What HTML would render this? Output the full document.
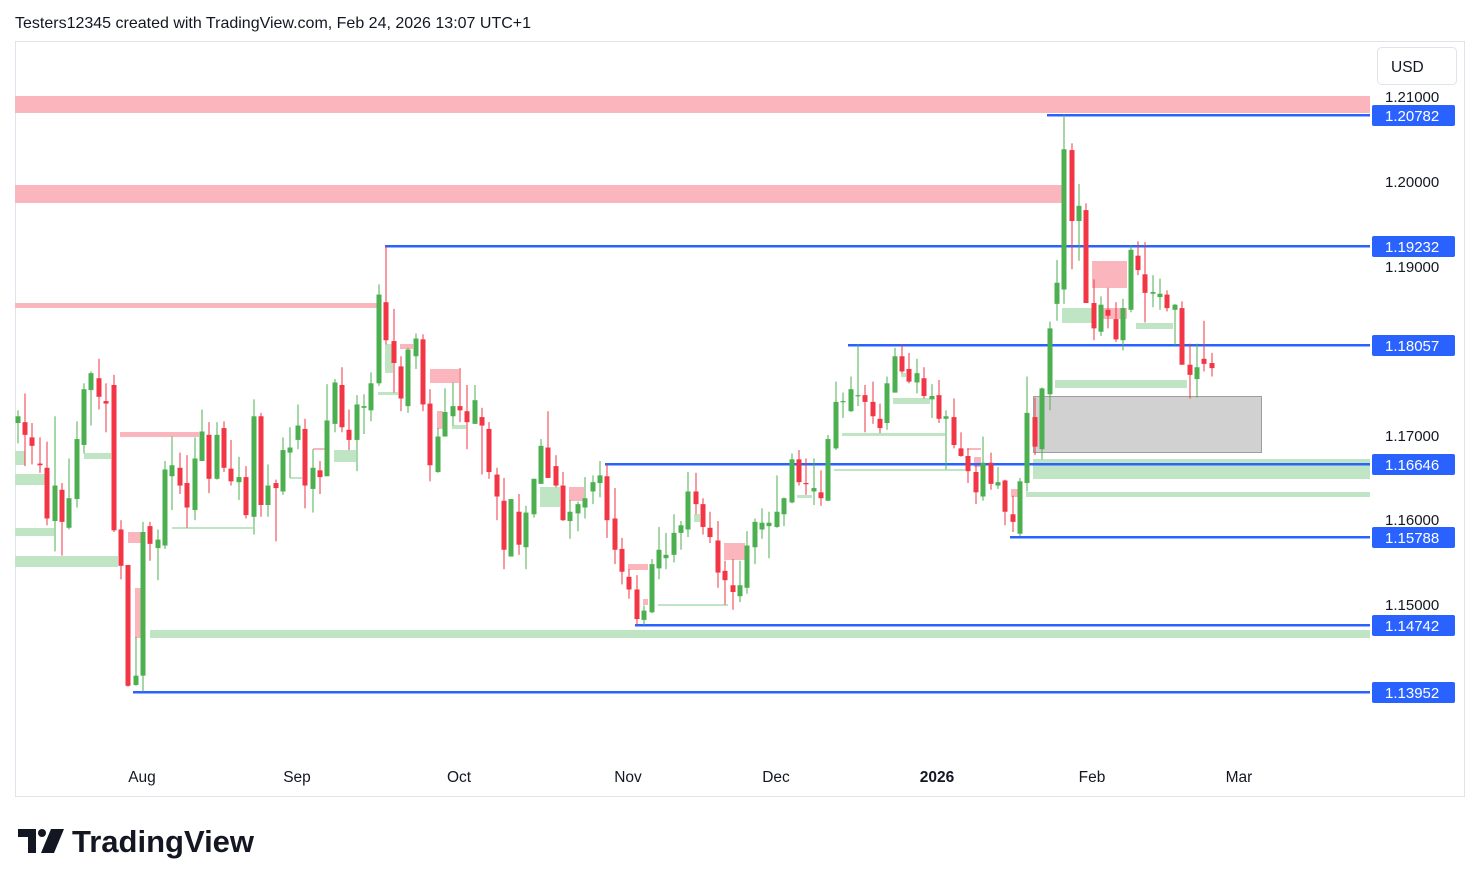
<!DOCTYPE html>
<html><head><meta charset="utf-8"><style>
html,body{margin:0;padding:0;background:#fff;}
body{width:1479px;height:886px;overflow:hidden;font-family:"Liberation Sans",sans-serif;}
svg text{font-family:"Liberation Sans",sans-serif;}
</style></head><body>
<svg id="chart" width="1479" height="886" viewBox="0 0 1479 886" xmlns="http://www.w3.org/2000/svg">
<rect x="0" y="0" width="1479" height="886" fill="#fff"/>
<text x="15" y="28" font-size="16" fill="#131722">Testers12345 created with TradingView.com, Feb 24, 2026 13:07 UTC+1</text>
<rect x="15.5" y="41.5" width="1449" height="755" fill="none" stroke="#e0e3eb"/>
<g id="zones">
<rect x="15" y="96" width="1355" height="17" fill="#fbb5bd"/>
<rect x="15" y="185" width="1048" height="18" fill="#fbb5bd"/>
<rect x="15" y="303" width="363" height="5" fill="#fbb5bd"/>
<rect x="15" y="451" width="10" height="14" fill="#c0e5c5"/>
<rect x="15" y="474" width="30" height="11" fill="#c0e5c5"/>
<rect x="15" y="528" width="39" height="8" fill="#c0e5c5"/>
<rect x="15" y="556" width="103" height="11" fill="#c0e5c5"/>
<rect x="84" y="453" width="27" height="6" fill="#c0e5c5"/>
<rect x="150" y="630" width="1220" height="8" fill="#c0e5c5"/>
<rect x="172" y="527" width="81" height="2" fill="#c0e5c5"/>
<rect x="290" y="477" width="12" height="2" fill="#c0e5c5"/>
<rect x="334" y="450" width="22" height="12" fill="#c0e5c5"/>
<rect x="378" y="392" width="20" height="3" fill="#c0e5c5"/>
<rect x="385" y="344" width="8" height="29" fill="#c0e5c5"/>
<rect x="452" y="425" width="14" height="4" fill="#c0e5c5"/>
<rect x="540" y="487" width="20" height="20" fill="#c0e5c5"/>
<rect x="658" y="604" width="70" height="2" fill="#c0e5c5"/>
<rect x="694" y="514" width="6" height="8" fill="#c0e5c5"/>
<rect x="797" y="495" width="15" height="3" fill="#c0e5c5"/>
<rect x="842" y="433" width="103" height="3" fill="#c0e5c5"/>
<rect x="834" y="469" width="131" height="2" fill="#c0e5c5"/>
<rect x="893" y="398" width="37" height="6" fill="#c0e5c5"/>
<rect x="901" y="373" width="5" height="4" fill="#c0e5c5"/>
<rect x="1026" y="492" width="344" height="5" fill="#c0e5c5"/>
<rect x="1033" y="459" width="337" height="20" fill="#c0e5c5"/>
<rect x="1062" y="308" width="30" height="15" fill="#c0e5c5"/>
<rect x="1055" y="380" width="132" height="8" fill="#c0e5c5"/>
<rect x="1136" y="323" width="37" height="6" fill="#c0e5c5"/>
<rect x="120" y="432" width="79" height="5" fill="#fbb5bd"/>
<rect x="128" y="532" width="13" height="11" fill="#fbb5bd"/>
<rect x="135" y="588" width="6" height="50" fill="#fbb5bd"/>
<rect x="313" y="448" width="12" height="2" fill="#fbb5bd"/>
<rect x="400" y="344" width="13" height="5" fill="#fbb5bd"/>
<rect x="430" y="369" width="29" height="14" fill="#fbb5bd"/>
<rect x="437" y="411" width="6" height="18" fill="#fbb5bd"/>
<rect x="569" y="487" width="15" height="14" fill="#fbb5bd"/>
<rect x="628" y="564" width="20" height="6" fill="#fbb5bd"/>
<rect x="643" y="599" width="5" height="6" fill="#fbb5bd"/>
<rect x="724" y="543" width="21" height="17" fill="#fbb5bd"/>
<rect x="967" y="448" width="14" height="2" fill="#fbb5bd"/>
<rect x="974" y="457" width="7" height="10" fill="#fbb5bd"/>
<rect x="1011" y="489" width="7" height="8" fill="#fbb5bd"/>
<rect x="1092" y="261" width="35" height="27" fill="#fbb5bd"/>
<rect x="1099" y="308" width="28" height="11" fill="#fbb5bd"/>
<rect x="1033.5" y="396.5" width="228" height="56" fill="#d1d1d1" stroke="#9e9e9e" stroke-width="1"/>
</g>
<g id="levels">
<rect x="1047" y="114" width="323" height="2.5" fill="#2962ff"/>
<rect x="385" y="245" width="985" height="2.5" fill="#2962ff"/>
<rect x="848" y="344" width="522" height="2.5" fill="#2962ff"/>
<rect x="605" y="463" width="765" height="2.5" fill="#2962ff"/>
<rect x="1010" y="536" width="360" height="2.5" fill="#2962ff"/>
<rect x="635" y="624" width="735" height="2.5" fill="#2962ff"/>
<rect x="133" y="691" width="1237" height="2.5" fill="#2962ff"/>
</g>
<g id="candles"></g>
<g id="price-axis">
<rect x="1377.5" y="47.5" width="79" height="37" rx="4" fill="#fff" stroke="#e0e3eb"/>
<text x="1391" y="72" font-size="15.5" fill="#131722">USD</text>
<text x="1385" y="102" font-size="15" fill="#131722">1.21000</text>
<text x="1385" y="187" font-size="15" fill="#131722">1.20000</text>
<text x="1385" y="272" font-size="15" fill="#131722">1.19000</text>
<text x="1385" y="441" font-size="15" fill="#131722">1.17000</text>
<text x="1385" y="525" font-size="15" fill="#131722">1.16000</text>
<text x="1385" y="610" font-size="15" fill="#131722">1.15000</text>
<g><rect x="1372" y="105" width="83" height="21" rx="2" fill="#2962ff"/><text x="1385" y="121" font-size="15" fill="#fff">1.20782</text></g>
<g><rect x="1372" y="236" width="83" height="21" rx="2" fill="#2962ff"/><text x="1385" y="252" font-size="15" fill="#fff">1.19232</text></g>
<g><rect x="1372" y="335" width="83" height="21" rx="2" fill="#2962ff"/><text x="1385" y="351" font-size="15" fill="#fff">1.18057</text></g>
<g><rect x="1372" y="454" width="83" height="21" rx="2" fill="#2962ff"/><text x="1385" y="470" font-size="15" fill="#fff">1.16646</text></g>
<g><rect x="1372" y="527" width="83" height="21" rx="2" fill="#2962ff"/><text x="1385" y="543" font-size="15" fill="#fff">1.15788</text></g>
<g><rect x="1372" y="615" width="83" height="21" rx="2" fill="#2962ff"/><text x="1385" y="631" font-size="15" fill="#fff">1.14742</text></g>
<g><rect x="1372" y="682" width="83" height="21" rx="2" fill="#2962ff"/><text x="1385" y="698" font-size="15" fill="#fff">1.13952</text></g>
</g>
<g id="time-axis" font-size="15.5" fill="#131722" text-anchor="middle">
<text x="142" y="782">Aug</text>
<text x="297" y="782">Sep</text>
<text x="459" y="782">Oct</text>
<text x="628" y="782">Nov</text>
<text x="776" y="782">Dec</text>
<text x="937" y="782" font-weight="bold">2026</text>
<text x="1092" y="782">Feb</text>
<text x="1239" y="782">Mar</text>
</g>
<g fill="#131722">
<path d="M18 829 h18 v24 h-8 v-16 h-10z"/>
<circle cx="42" cy="833" r="4"/>
<path d="M51 829 h13 l-10 24 h-13z"/>
<text x="72" y="852" font-size="31" font-weight="bold">TradingView</text>
</g>
</svg>
<script>
const opens = [1.1713,1.1714,1.1696,1.1665,1.1660,1.1597,1.1634,1.1589,1.1623,1.1687,
1.1752,1.1766,1.1739,1.1758,1.1587,1.1545,1.1403,1.1414,1.1591,1.1565,
1.1568,1.1650,1.1660,1.1642,1.1610,1.1668,1.1699,1.1647,1.1707,1.1659,
1.1643,1.1649,1.1602,1.1721,1.1616,1.1642,1.1632,1.1678,1.1693,1.1706,
1.1635,1.1657,1.1650,1.1712,1.1758,1.1705,1.1693,1.1731,1.1728,1.1760,
1.1856,1.1810,1.1780,1.1733,1.1792,1.1812,1.1736,1.1655,1.1697,1.1721,
1.1733,1.1727,1.1712,1.1720,1.1706,1.1652,1.1621,1.1555,1.1608,1.1566,
1.1605,1.1641,1.1684,1.1662,1.1639,1.1597,1.1606,1.1613,1.1632,1.1642,
1.1650,1.1600,1.1564,1.1531,1.1516,1.1480,1.1489,1.1541,1.1553,1.1557,
1.1583,1.1587,1.1632,1.1617,1.1589,1.1574,1.1538,1.1521,1.1508,1.1518,
1.1566,1.1587,1.1591,1.1590,1.1605,1.1619,1.1670,1.1642,1.1632,1.1631,
1.1621,1.1683,1.1738,1.1727,1.1745,1.1746,1.1738,1.1718,1.1713,1.1749,
1.1792,1.1777,1.1761,1.1766,1.1741,1.1746,1.1718,1.1720,1.1683,1.1674,
1.1655,1.1626,1.1666,1.1639,1.1645,1.1605,1.1582,1.1642,1.1720,1.1682,
1.1747,1.1854,1.1871,1.2036,1.1952,1.1965,1.1855,1.1821,1.1847,1.1836,
1.1811,1.1847,1.1911,1.1889,1.1866,1.1862,1.1865,1.1847,1.1849,1.1782,
1.1765,1.1789,1.1784];
const highs = [1.1728,1.1748,1.1713,1.1696,1.1691,1.1721,1.1642,1.1671,1.1715,1.1760,
1.1774,1.1789,1.1760,1.1770,1.1598,1.1545,1.1460,1.1596,1.1596,1.1587,
1.1668,1.1697,1.1678,1.1675,1.1696,1.1729,1.1714,1.1714,1.1715,1.1693,
1.1673,1.1662,1.1741,1.1725,1.1664,1.1646,1.1696,1.1708,1.1735,1.1718,
1.1682,1.1668,1.1759,1.1765,1.1779,1.1729,1.1746,1.1747,1.1773,1.1877,
1.1923,1.1848,1.1792,1.1802,1.1819,1.1818,1.1753,1.1707,1.1754,1.1761,
1.1778,1.1758,1.1758,1.1731,1.1714,1.1660,1.1648,1.1623,1.1629,1.1615,
1.1647,1.1694,1.1727,1.1675,1.1655,1.1622,1.1620,1.1649,1.1651,1.1668,
1.1664,1.1636,1.1577,1.1540,1.1533,1.1497,1.1552,1.1590,1.1583,1.1605,
1.1597,1.1655,1.1654,1.1624,1.1608,1.1597,1.1550,1.1552,1.1550,1.1585,
1.1600,1.1612,1.1608,1.1651,1.1625,1.1677,1.1681,1.1671,1.1671,1.1657,
1.1699,1.1762,1.1749,1.1768,1.1806,1.1758,1.1762,1.1736,1.1768,1.1802,
1.1806,1.1796,1.1789,1.1779,1.1759,1.1764,1.1728,1.1742,1.1702,1.1683,
1.1663,1.1697,1.1678,1.1661,1.1646,1.1627,1.1648,1.1768,1.1743,1.1755,
1.1833,1.1906,1.2078,1.2044,1.1996,1.1973,1.1883,1.1863,1.1873,1.1856,
1.1860,1.1923,1.1928,1.1927,1.1888,1.1884,1.1870,1.1854,1.1857,1.1807,
1.1807,1.1834,1.1796];
const lows = [1.1689,1.1662,1.1664,1.1654,1.1592,1.1561,1.1556,1.1587,1.1613,1.1677,
1.1710,1.1729,1.1702,1.1584,1.1528,1.1401,1.1402,1.1395,1.1550,1.1527,
1.1564,1.1610,1.1629,1.1589,1.1598,1.1668,1.1630,1.1646,1.1655,1.1639,
1.1622,1.1600,1.1581,1.1602,1.1602,1.1573,1.1628,1.1648,1.1682,1.1612,
1.1607,1.1629,1.1650,1.1702,1.1702,1.1681,1.1656,1.1700,1.1715,1.1757,
1.1806,1.1749,1.1727,1.1725,1.1777,1.1727,1.1644,1.1654,1.1697,1.1710,
1.1714,1.1682,1.1712,1.1652,1.1647,1.1598,1.1540,1.1555,1.1557,1.1540,
1.1601,1.1641,1.1648,1.1637,1.1597,1.1576,1.1585,1.1600,1.1617,1.1625,
1.1577,1.1546,1.1522,1.1505,1.1474,1.1474,1.1488,1.1528,1.1540,1.1548,
1.1563,1.1578,1.1605,1.1581,1.1571,1.1518,1.1498,1.1492,1.1501,1.1511,
1.1546,1.1576,1.1553,1.1589,1.1591,1.1618,1.1639,1.1628,1.1616,1.1615,
1.1621,1.1681,1.1719,1.1726,1.1733,1.1702,1.1712,1.1701,1.1705,1.1749,
1.1772,1.1760,1.1748,1.1742,1.1719,1.1713,1.1658,1.1683,1.1673,1.1642,
1.1617,1.1621,1.1634,1.1635,1.1592,1.1584,1.1579,1.1632,1.1675,1.1670,
1.1728,1.1834,1.1854,1.1895,1.1905,1.1855,1.1811,1.1816,1.1825,1.1809,
1.1799,1.1844,1.1888,1.1832,1.1850,1.1847,1.1845,1.1805,1.1782,1.1742,
1.1743,1.1774,1.1768];
const closes = [1.1721,1.1699,1.1686,1.1663,1.1600,1.1639,1.1596,1.1624,1.1694,1.1753,
1.1772,1.1744,1.1736,1.1586,1.1544,1.1402,1.1414,1.1584,1.1570,1.1575,
1.1658,1.1663,1.1639,1.1613,1.1671,1.1703,1.1647,1.1699,1.1660,1.1644,
1.1649,1.1604,1.1721,1.1616,1.1639,1.1636,1.1681,1.1684,1.1710,1.1639,
1.1660,1.1649,1.1716,1.1761,1.1708,1.1693,1.1735,1.1733,1.1760,1.1865,
1.1811,1.1784,1.1742,1.1800,1.1813,1.1735,1.1663,1.1697,1.1726,1.1733,
1.1728,1.1714,1.1740,1.1710,1.1655,1.1626,1.1563,1.1623,1.1569,1.1607,
1.1647,1.1686,1.1648,1.1639,1.1598,1.1608,1.1617,1.1624,1.1643,1.1651,
1.1598,1.1563,1.1537,1.1516,1.1481,1.1491,1.1546,1.1563,1.1557,1.1583,
1.1592,1.1632,1.1617,1.1590,1.1578,1.1536,1.1527,1.1513,1.1521,1.1568,
1.1596,1.1595,1.1595,1.1608,1.1624,1.1670,1.1643,1.1641,1.1636,1.1624,
1.1694,1.1738,1.1739,1.1753,1.1746,1.1738,1.1721,1.1707,1.1760,1.1792,
1.1774,1.1762,1.1772,1.1745,1.1745,1.1718,1.1721,1.1687,1.1674,1.1656,
1.1631,1.1666,1.1641,1.1643,1.1608,1.1596,1.1644,1.1725,1.1685,1.1754,
1.1825,1.1879,1.2037,1.1952,1.1970,1.1855,1.1825,1.1853,1.1840,1.1812,
1.1849,1.1918,1.1894,1.1867,1.1868,1.1866,1.1849,1.1853,1.1782,1.1770,
1.1779,1.1783,1.1778];

function yOf(p){ return 96 + (1.21 - p) * 8450; }
function xOf(i){ return 17.7 + i * 7.37; }
const NS = 'http://www.w3.org/2000/svg';
const g = document.getElementById('candles');
for (let i = 0; i < opens.length; i++) {
  const up = closes[i] >= opens[i];
  const col = up ? '#4caf50' : '#f23645';
  const cx = Math.round(xOf(i));
  const grp = document.createElementNS(NS, 'g');
  
  
  const w = document.createElementNS(NS, 'rect');
  w.setAttribute('x', cx - 0.5);
  w.setAttribute('y', yOf(highs[i]));
  w.setAttribute('width', 1);
  w.setAttribute('height', Math.max(1, yOf(lows[i]) - yOf(highs[i])));
  w.setAttribute('fill', col);
  
  
  const b = document.createElementNS(NS, 'rect');
  const top = yOf(Math.max(opens[i], closes[i]));
  const bot = yOf(Math.min(opens[i], closes[i]));
  b.setAttribute('x', cx - 2.5);
  b.setAttribute('y', top);
  b.setAttribute('width', 5);
  b.setAttribute('height', Math.max(1.2, bot - top));
  b.setAttribute('fill', col);
  
  
  grp.appendChild(w);
  grp.appendChild(b);
  g.appendChild(grp);
}
</script>
</body></html>
